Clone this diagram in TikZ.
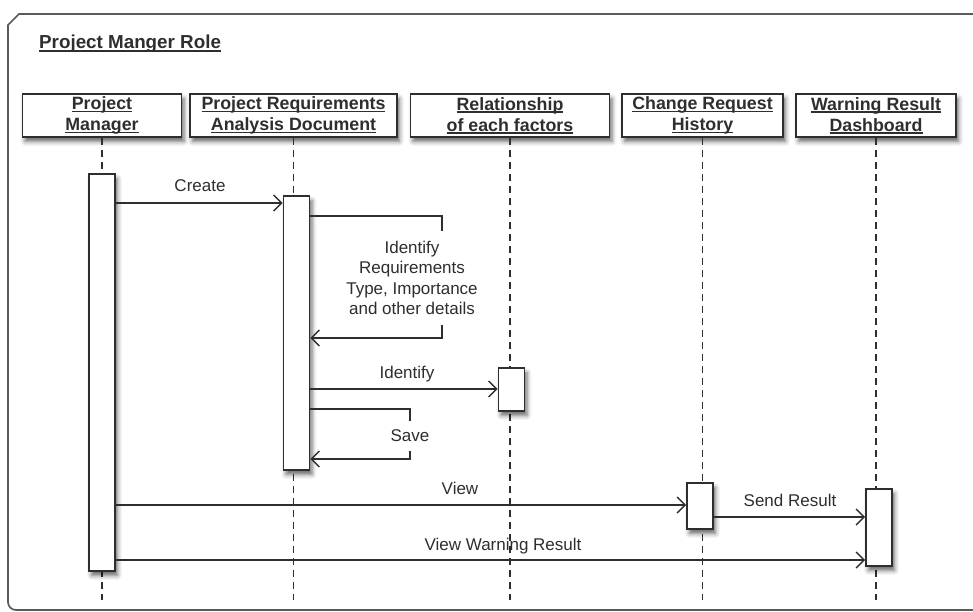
\documentclass[tikz,border=0pt]{standalone}
\usepackage{fontspec}
\setmainfont{Liberation Sans}
\usetikzlibrary{arrows.meta,shadows.blur}
\definecolor{ink}{HTML}{2E2E2E}
\definecolor{framegray}{HTML}{5A5A5A}
% underline a whole line of text with a solid rule
\newcommand\ulword[1]{\setbox0\hbox{#1}\rlap{\rule[-2.8pt]{\wd0}{1.4pt}}\box0}
\tikzset{
  softshadow/.style={blur shadow={shadow xshift=2.5pt,shadow yshift=-4.5pt,shadow blur radius=4.5pt,shadow opacity=60}},
  head/.style={draw=ink, line width=1.6pt, fill=white, minimum height=43pt, inner sep=0pt,
    align=center, font=\fontsize{17.8}{21}\selectfont\bfseries, text=ink, softshadow},
  bar/.style={draw=ink, line width=1.6pt, fill=white, minimum width=26pt, inner sep=0pt, softshadow},
  life/.style={draw=ink, line width=1.5pt, dash pattern=on 7pt off 5pt},
  msg/.style={draw=ink, line width=1.4pt, -{Straight Barb[length=8pt,width=16pt,line width=1.4pt]}},
  lbl/.style={font=\fontsize{17}{20.5}\selectfont, text=ink, inner sep=0pt, align=center},
}
\begin{document}
\begin{tikzpicture}[x=1pt,y=-1pt]
\useasboundingbox (0,0) rectangle (973,611);
\clip (0,0) rectangle (973,611);

% frame of the diagram
\draw[framegray, line width=1.7pt] (990,14) -- (19,14) -- (8,25)
  [rounded corners=8pt] -- (8,610) -- (990,610);
\node[anchor=west, font=\fontsize{18.8}{22}\selectfont\bfseries, text=ink, inner sep=0pt]
  (title) at (39,44) {\ulword{Project Manger Role}};

% lifeline heads
\node[head, minimum width=159pt] (pmh)   at (102,115.5) {\ulword{Project}\\\ulword{Manager}};
\node[head, minimum width=207pt] (pradh) at (293.5,115.5) {\ulword{Project Requirements}\\\ulword{Analysis Document}};
\node[head, minimum width=199pt] (relh)  at (510,115.5) {\ulword{Relationship}\\\ulword{of each factors}};
\node[head, minimum width=161pt] (crhh)  at (702.5,115.5) {\ulword{Change Request}\\\ulword{History}};
\node[head, minimum width=160pt] (wrdh)  at (876,115.5) {\ulword{Warning Result}\\\ulword{Dashboard}};

% lifelines
\foreach \h in {pmh,pradh,relh,crhh,wrdh}{
  \coordinate (\h-end) at (\h.south |- 0,600);
  \draw[life] (\h.south) -- (\h-end);
}

% activation bars
\node[bar, minimum height=397pt] (pmbar)   at (102,372.5) {};
\node[bar, minimum height=274pt] (pradbar) at (296.5,333) {};
\node[bar, minimum height=43pt]  (relbar)  at (511.5,389.5) {};
\node[bar, minimum height=46pt]  (crhbar)  at (700,506) {};
\node[bar, minimum height=77pt]  (wrdbar)  at (879,527.5) {};

% messages
\draw[msg] (pmbar.east |- 0,203) -- (pradbar.west |- 0,203);
\node[lbl] (l-create) at (200,186) {Create};

\draw[msg] (pradbar.east |- 0,216) -- (442,216) -- (442,338) -- (pradbar.east |- 0,338);
\node[lbl, fill=white, inner xsep=2pt, inner ysep=10pt] (l-ident) at (412,278)
  {Identify\\Requirements\\Type, Importance\\and other details};

\draw[msg] (pradbar.east |- 0,389) -- (relbar.west |- 0,389);
\node[lbl] (l-identify) at (407,374) {Identify};

\draw[msg] (pradbar.east |- 0,409) -- (410,409) -- (410,459) -- (pradbar.east |- 0,459);
\node[lbl, fill=white, inner xsep=2pt, inner ysep=9pt] (l-save) at (410,436) {Save};

\draw[msg] (pmbar.east |- 0,505) -- (crhbar.west |- 0,505);
\node[lbl] (l-view) at (460,488) {View};

\draw[msg] (crhbar.east |- 0,517) -- (wrdbar.west |- 0,517);
\node[lbl] (l-send) at (790,500) {Send Result};

\draw[msg] (pmbar.east |- 0,560) -- (wrdbar.west |- 0,560);
\node[lbl] (l-warn) at (503,546) {View Warning Result};
\end{tikzpicture}
\end{document}
